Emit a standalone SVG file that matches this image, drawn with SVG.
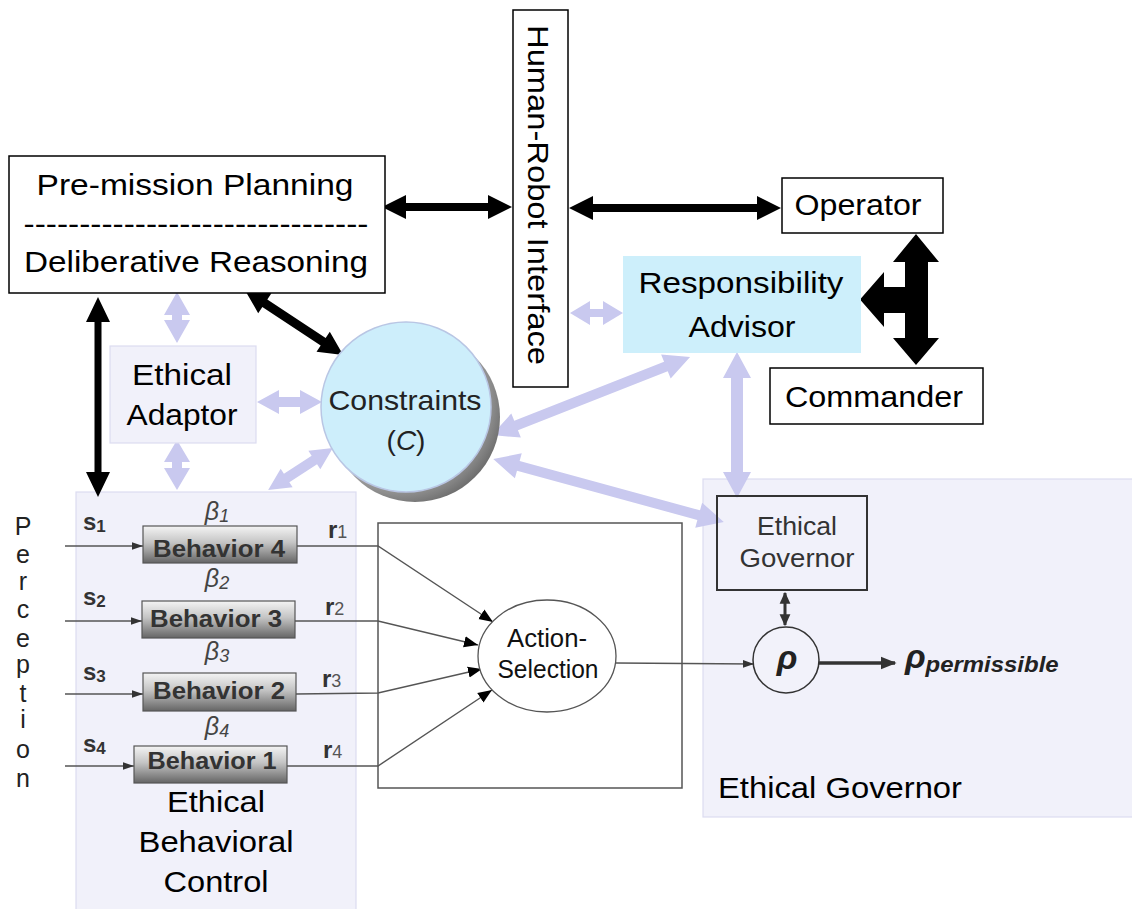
<svg xmlns="http://www.w3.org/2000/svg" width="1132" height="909" viewBox="0 0 1132 909">
<style>
text{font-family:"Liberation Sans",Arial,sans-serif;}
.big{font-size:30px;fill:#000;}
.box{fill:#fff;stroke:#000;stroke-width:1.5;}
.lav{fill:#f1f1fa;stroke:#dcdcf0;stroke-width:1.2;}
.la{fill:#c9c9ef;}
.bk{fill:#000;}
.beh{fill:url(#bg);stroke:#555;stroke-width:1.2;}
.bt{font-size:23px;font-weight:bold;fill:#333;text-anchor:middle;}
.thin{fill:none;stroke:#555;stroke-width:1.4;}
.per{font-size:25px;fill:#222;text-anchor:middle;}
.sl{font-size:24px;font-weight:bold;fill:#333;}
.bl{font-size:25px;font-style:italic;fill:#444;text-anchor:middle;}
.mid{text-anchor:middle;}
</style>
<defs>
<linearGradient id="bg" x1="0" y1="0" x2="0" y2="1">
<stop offset="0" stop-color="#f4f4f4"/>
<stop offset="0.45" stop-color="#c4c4c4"/>
<stop offset="1" stop-color="#656565"/>
</linearGradient>
<radialGradient id="sh" cx="0.4" cy="0.4" r="0.65">
<stop offset="0.7" stop-color="#b0b0b0"/>
<stop offset="1" stop-color="#6a6a6a"/>
</radialGradient>
<marker id="ah" viewBox="0 0 10 10" refX="10" refY="5" markerWidth="14" markerHeight="14" markerUnits="userSpaceOnUse" orient="auto">
<path d="M0,1 L10,5 L0,9 Z" fill="#000"/>
</marker>
<marker id="as" viewBox="0 0 10 10" refX="10" refY="5" markerWidth="11" markerHeight="11" markerUnits="userSpaceOnUse" orient="auto">
<path d="M0,1.5 L10,5 L0,8.5 Z" fill="#333"/>
</marker>
<marker id="ad" viewBox="0 0 10 10" refX="9" refY="5" markerWidth="12" markerHeight="12" markerUnits="userSpaceOnUse" orient="auto-start-reverse">
<path d="M0,0.5 L10,5 L0,9.5 Z" fill="#333"/>
</marker>
<marker id="ab" viewBox="0 0 10 10" refX="9" refY="5" markerWidth="16" markerHeight="16" markerUnits="userSpaceOnUse" orient="auto">
<path d="M0,1 L10,5 L0,9 Z" fill="#333"/>
</marker>
</defs>
<rect x="0" y="0" width="1132" height="909" fill="#fff"/>

<g id="ethical-behavioral-control">
<rect class="lav" x="76" y="492" width="280" height="425"/>
<text class="big mid" x="216" y="812" textLength="98" lengthAdjust="spacingAndGlyphs">Ethical</text>
<text class="big mid" x="216" y="852" textLength="155" lengthAdjust="spacingAndGlyphs">Behavioral</text>
<text class="big mid" x="216" y="892" textLength="105" lengthAdjust="spacingAndGlyphs">Control</text>
</g>

<g id="ethical-governor-region">
<rect class="lav" x="703" y="479" width="440" height="338"/>
<text class="big" x="718" y="798" textLength="244" lengthAdjust="spacingAndGlyphs">Ethical Governor</text>
</g>

<g id="connectors">
<path class="la" transform="translate(177,317.5) rotate(90)" d="M-25.5,0 L-2.5,-13 L-2.5,-5 L2.5,-5 L2.5,-13 L25.5,0 L2.5,13 L2.5,5 L-2.5,5 L-2.5,13Z"/>
<path class="la" transform="translate(289.5,402)" d="M-32.5,0 L-10.5,-12 L-10.5,-5 L10.5,-5 L10.5,-12 L32.5,0 L10.5,12 L10.5,5 L-10.5,5 L-10.5,12Z"/>
<path class="la" transform="translate(177,465) rotate(90)" d="M-25,0 L-3,-13 L-3,-5 L3,-5 L3,-13 L25,0 L3,13 L3,5 L-3,5 L-3,13Z"/>
<path class="la" transform="translate(300.5,469) rotate(-32.9)" d="M-38.5,0 L-16.5,-11 L-16.5,-5 L16.5,-5 L16.5,-11 L38.5,0 L16.5,11 L16.5,5 L-16.5,5 L-16.5,11Z"/>
<path class="la" transform="translate(596.5,313)" d="M-26.5,0 L-6.5,-12 L-6.5,-4 L6.5,-4 L6.5,-12 L26.5,0 L6.5,12 L6.5,4 L-6.5,4 L-6.5,12Z"/>
<path class="la" transform="translate(591,396) rotate(-21.5)" d="M-106.5,0 L-80.5,-13 L-80.5,-5 L80.5,-5 L80.5,-13 L106.5,0 L80.5,13 L80.5,5 L-80.5,5 L-80.5,13Z"/>
<path class="la" transform="translate(608.5,490.5) rotate(15.3)" d="M-119.5,0 L-93.5,-13 L-93.5,-5 L93.5,-5 L93.5,-13 L119.5,0 L93.5,13 L93.5,5 L-93.5,5 L-93.5,13Z"/>
<path class="la" transform="translate(737,425) rotate(90)" d="M-73,0 L-47,-14 L-47,-6 L47,-6 L47,-14 L73,0 L47,14 L47,6 L-47,6 L-47,14Z"/>
<path class="bk" transform="translate(447,207)" d="M-65,0 L-41,-12 L-41,-4 L41,-4 L41,-12 L65,0 L41,12 L41,4 L-41,4 L-41,12Z"/>
<path class="bk" transform="translate(675,208)" d="M-106,0 L-82,-12 L-82,-4 L82,-4 L82,-12 L106,0 L82,12 L82,4 L-82,4 L-82,12Z"/>
<path class="bk" transform="translate(98,397) rotate(90)" d="M-100,0 L-75,-12 L-75,-3.5 L75,-3.5 L75,-12 L100,0 L75,12 L75,3.5 L-75,3.5 L-75,12Z"/>
<path class="bk" transform="translate(294,322.5) rotate(33.55)" d="M-59,0 L-35,-12 L-35,-4.5 L35,-4.5 L35,-12 L59,0 L35,12 L35,4.5 L-35,4.5 L-35,12Z"/>
<path class="bk" d="M916,234 L939,262 L928,262 L928,338 L939,338 L916,365 L893,338 L905,338 L905,313 L884,313 L884,327 L860,299.5 L884,272 L884,287 L905,287 L905,262 L893,262 Z"/>
<line class="thin" x1="65" y1="546" x2="143" y2="546" marker-end="url(#as)"/>
<line class="thin" x1="65" y1="621" x2="142" y2="621" marker-end="url(#as)"/>
<line class="thin" x1="65" y1="694" x2="143" y2="694" marker-end="url(#as)"/>
<line class="thin" x1="65" y1="766" x2="134" y2="766" marker-end="url(#as)"/>
<polyline class="thin" points="297,546 378,546 493,622" marker-end="url(#ah)"/>
<polyline class="thin" points="295,621 378,621 478,645" marker-end="url(#ah)"/>
<polyline class="thin" points="296,694 378,693 482,669" marker-end="url(#ah)"/>
<polyline class="thin" points="287,766 378,766 492,690" marker-end="url(#ah)"/>
<line class="thin" x1="616" y1="663" x2="754" y2="664" marker-end="url(#as)"/>
<line x1="785" y1="593" x2="785" y2="625" stroke="#333" stroke-width="3" marker-start="url(#ad)" marker-end="url(#ad)"/>
<line x1="819" y1="663" x2="895" y2="663" stroke="#333" stroke-width="3.5" marker-end="url(#ab)"/>
</g>

<g id="pre-mission-planning">
<rect class="box" x="9" y="156" width="376" height="137"/>
<text class="big mid" x="195" y="195" textLength="317" lengthAdjust="spacingAndGlyphs">Pre-mission Planning</text>
<text class="big mid" x="196" y="234" textLength="345" lengthAdjust="spacingAndGlyphs">-------------------------------</text>
<text class="big mid" x="196" y="272" textLength="344" lengthAdjust="spacingAndGlyphs">Deliberative Reasoning</text>
</g>

<g id="human-robot-interface">
<rect class="box" x="513" y="10" width="55" height="377"/>
<text class="big mid" transform="translate(528,195) rotate(90)" x="0" y="0" font-size="29" textLength="340" lengthAdjust="spacingAndGlyphs">Human-Robot Interface</text>
</g>

<g id="operator">
<rect class="box" x="782" y="178" width="161" height="55"/>
<text class="big mid" x="858" y="215" textLength="127" lengthAdjust="spacingAndGlyphs">Operator</text>
</g>

<g id="commander">
<rect class="box" x="770" y="368" width="213" height="56"/>
<text class="big mid" x="874" y="407" textLength="178" lengthAdjust="spacingAndGlyphs">Commander</text>
</g>

<g id="responsibility-advisor">
<rect x="623" y="256" width="238" height="97" fill="#cdeffb"/>
<text class="big mid" x="741" y="293" textLength="205" lengthAdjust="spacingAndGlyphs">Responsibility</text>
<text class="big mid" x="742" y="337" textLength="107" lengthAdjust="spacingAndGlyphs">Advisor</text>
</g>

<g id="ethical-adaptor">
<rect class="lav" x="110" y="346" width="146" height="97"/>
<text class="big mid" x="182" y="385" textLength="100" lengthAdjust="spacingAndGlyphs">Ethical</text>
<text class="big mid" x="182" y="425" textLength="111" lengthAdjust="spacingAndGlyphs">Adaptor</text>
</g>

<g id="constraints">
<circle cx="415" cy="417" r="85" fill="url(#sh)"/>
<circle cx="406" cy="407" r="85" fill="#cdeefb" stroke="#b9c6e4" stroke-width="1.5"/>
<text class="mid" x="405" y="410" font-size="28" fill="#222" textLength="153" lengthAdjust="spacingAndGlyphs">Constraints</text>
<text class="mid" x="406" y="450" font-size="28" fill="#222">(<tspan font-style="italic">C</tspan>)</text>
</g>

<g id="perception">
<text class="per" x="23" y="535">P</text>
<text class="per" x="23" y="563">e</text>
<text class="per" x="23" y="590">r</text>
<text class="per" x="23" y="618">c</text>
<text class="per" x="23" y="647">e</text>
<text class="per" x="23" y="673">p</text>
<text class="per" x="23" y="702">t</text>
<text class="per" x="23" y="728">i</text>
<text class="per" x="23" y="758">o</text>
<text class="per" x="23" y="787">n</text>
</g>

<g id="behavior-4">
<rect class="beh" x="143" y="526" width="154" height="37"/>
<text class="bt" x="219" y="557" textLength="132" lengthAdjust="spacingAndGlyphs">Behavior 4</text>
</g>
<g id="behavior-3">
<rect class="beh" x="142" y="601" width="153" height="37"/>
<text class="bt" x="216" y="627" textLength="132" lengthAdjust="spacingAndGlyphs">Behavior 3</text>
</g>
<g id="behavior-2">
<rect class="beh" x="143" y="673" width="153" height="38"/>
<text class="bt" x="219" y="699" textLength="132" lengthAdjust="spacingAndGlyphs">Behavior 2</text>
</g>
<g id="behavior-1">
<rect class="beh" x="134" y="746" width="153" height="37"/>
<text class="bt" x="212" y="769" textLength="129" lengthAdjust="spacingAndGlyphs">Behavior 1</text>
</g>

<g id="labels">
<text class="sl" x="83" y="530">s<tspan font-size="17" dy="2">1</tspan></text>
<text class="sl" x="83" y="605">s<tspan font-size="17" dy="2">2</tspan></text>
<text class="sl" x="83" y="680">s<tspan font-size="17" dy="2">3</tspan></text>
<text class="sl" x="83" y="752">s<tspan font-size="17" dy="2">4</tspan></text>
<text class="bl" x="217" y="520">β<tspan font-size="18" dy="2">1</tspan></text>
<text class="bl" x="217" y="587">β<tspan font-size="18" dy="2">2</tspan></text>
<text class="bl" x="217" y="660">β<tspan font-size="18" dy="2">3</tspan></text>
<text class="bl" x="217" y="735">β<tspan font-size="18" dy="2">4</tspan></text>
<text class="sl" x="328" y="538" font-size="23">r<tspan font-size="18" font-weight="normal" fill="#555">1</tspan></text>
<text class="sl" x="325" y="615" font-size="23">r<tspan font-size="18" font-weight="normal" fill="#555">2</tspan></text>
<text class="sl" x="322" y="687" font-size="23">r<tspan font-size="18" font-weight="normal" fill="#555">3</tspan></text>
<text class="sl" x="323" y="758" font-size="23">r<tspan font-size="18" font-weight="normal" fill="#555">4</tspan></text>
</g>

<g id="action-selection">
<rect x="378" y="523" width="304" height="265" fill="none" stroke="#555" stroke-width="1.5"/>
<ellipse cx="547" cy="656" rx="69" ry="56" fill="#fff" stroke="#555" stroke-width="1.3"/>
<text class="mid" x="547" y="647" font-size="25" fill="#111" textLength="80" lengthAdjust="spacingAndGlyphs">Action-</text>
<text class="mid" x="548" y="678" font-size="25" fill="#111" textLength="101" lengthAdjust="spacingAndGlyphs">Selection</text>
</g>

<g id="ethical-governor">
<rect x="717" y="496" width="150" height="94" fill="none" stroke="#333" stroke-width="2"/>
<text class="mid" x="797" y="535" font-size="25" fill="#333" textLength="80" lengthAdjust="spacingAndGlyphs">Ethical</text>
<text class="mid" x="797" y="567" font-size="25" fill="#333" textLength="115" lengthAdjust="spacingAndGlyphs">Governor</text>
</g>

<g id="rho">
<circle cx="786" cy="660" r="33" fill="#f2f2fa" stroke="#333" stroke-width="1.5"/>
<text class="mid" x="787" y="669" font-size="34" font-weight="bold" font-style="italic" fill="#222">ρ</text>
</g>

<g id="rho-permissible">
<text x="905" y="668" font-size="34" font-weight="bold" font-style="italic" fill="#222">ρ<tspan font-size="22" dy="4" textLength="133" lengthAdjust="spacingAndGlyphs">permissible</tspan></text>
</g>
</svg>
